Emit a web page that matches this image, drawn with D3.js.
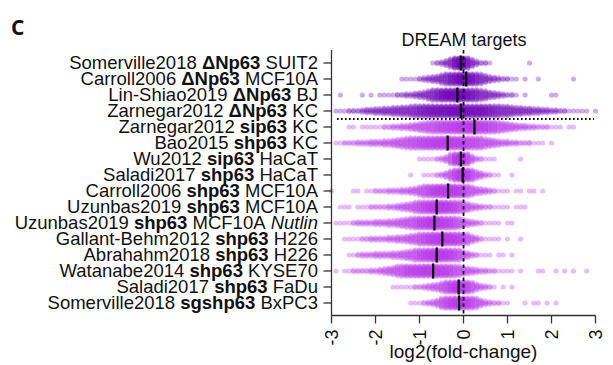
<!DOCTYPE html>
<html>
<head>
<meta charset="utf-8">
<script src="https://cdn.jsdelivr.net/npm/d3@7"></script>
<style>
  body { margin: 0; background: #fff; }
  svg { display: block; }
  text { fill: #111; }
</style>
</head>
<body>
<svg id="chart" width="613" height="365"></svg>
<script>
// Row labels: study, perturbation (bold), cell line, extra condition (italic)
const studies = ["Somerville2018", "Carroll2006", "Lin-Shiao2019", "Zarnegar2012",
  "Zarnegar2012", "Bao2015", "Wu2012", "Saladi2017", "Carroll2006", "Uzunbas2019",
  "Uzunbas2019", "Gallant-Behm2012", "Abrahahm2018", "Watanabe2014", "Saladi2017",
  "Somerville2018"];
const perturbations = ["ΔNp63", "ΔNp63", "ΔNp63", "ΔNp63", "sip63", "shp63", "sip63",
  "shp63", "shp63", "shp63", "shp63", "shp63", "shp63", "shp63", "shp63", "sgshp63"];
const cellLines = ["SUIT2", "MCF10A", "BJ", "KC", "KC", "KC", "HaCaT", "HaCaT", "MCF10A",
  "MCF10A", "MCF10A", "H226", "H226", "KYSE70", "FaDu", "BxPC3"];
const conditions = ["", "", "", "", "", "", "", "", "", "", "Nutlin", "", "", "", "", ""];

// over-expression datasets vs knock-down datasets
const direction = ["up", "up", "up", "up", "down", "down", "down", "down", "down", "down",
  "down", "down", "down", "down", "down", "down"];

// median log2 fold-change of DREAM targets per dataset
const medians = [-0.06, 0.06, -0.14, -0.06, 0.25, -0.36, -0.06, -0.02, -0.35, -0.61,
  -0.66, -0.48, -0.61, -0.69, -0.11, -0.10];

// gene counts per 0.1 log2FC bin; binStart is the first bin's value for each dataset
const binStart = [-0.7, -1.4, -2.8, -2.9, -2.6, -2.9, -1.0, -1.2, -3.0, -2.8, -2.9, -2.7,
  -2.6, -2.9, -1.6, -1.2];
const binCounts = [
  [1,2,3,5,8,14,20,20,12,7,4,2,2,1,0,0,0,0,0,0,0,0,1],
  [1,1,1,1,2,3,4,5,6,8,10,13,15,18,18,16,14,11,9,7,5,4,3,2,2,1,1,0,1,0,0,1,0,0,0,0,0,0,0,1],
  [1,0,0,0,0,1,0,1,0,1,1,1,1,2,2,3,3,4,5,6,8,10,12,14,16,17,18,18,17,15,13,11,9,8,6,5,4,3,2,2,1,0,1,0,0,0,0,0,1,1],
  [1,1,1,2,2,2,3,4,4,5,5,6,6,7,7,8,8,9,10,11,12,13,14,14,15,15,16,16,16,16,15,15,14,14,13,12,11,10,9,9,8,7,7,6,6,5,5,4,4,3,3,2,2,1,1,1,1,1,0,1],
  [1,1,0,1,1,1,1,1,2,2,3,3,4,4,5,6,7,8,9,10,11,12,13,14,15,16,17,17,17,16,15,14,12,11,9,8,7,6,5,4,4,3,3,2,2,2,1,1,1,0,1,1],
  [1,1,2,2,2,3,3,3,4,4,4,5,5,6,7,8,9,10,11,12,13,14,15,16,16,16,16,15,15,14,13,12,11,10,8,7,6,5,4,4,3,3,2,2,2,1,1,1,0,1],
  [1,1,1,1,2,3,5,9,16,22,20,12,6,3,2,1,1,1,0,0,0,0,0,1],
  [1,0,0,1,1,1,2,3,5,8,13,18,20,16,11,7,5,3,2,1,1,0,0,1],
  [1,0,0,0,0,1,1,0,1,1,2,2,2,3,3,3,4,4,5,6,8,10,12,14,16,17,18,18,17,15,13,10,8,6,5,4,3,2,1,1,1,0,1,1,0,1,1,0,1],
  [1,1,1,0,1,1,1,2,2,2,2,3,3,4,5,6,7,9,11,13,15,17,18,18,17,15,13,11,9,7,5,4,3,2,2,1,1,1,1,0,1,1,1],
  [1,1,1,1,2,3,3,3,3,4,4,4,5,5,6,7,8,9,11,13,15,17,18,18,17,15,13,11,9,7,5,4,3,2,1,1,1,1,0,1,1],
  [1,1,1,1,2,2,3,3,3,3,4,4,5,5,6,7,8,10,12,14,16,17,18,18,17,16,14,12,9,6,4,2,1,1,1,1,0,1,0,0,1],
  [1,1,2,3,3,3,4,4,4,4,5,5,6,7,8,10,12,14,16,18,18,18,17,15,12,10,7,5,3,2,1,1,1,0,1,1,0,1],
  [1,0,1,1,2,2,2,2,3,3,4,5,6,7,9,10,12,13,14,15,16,16,16,16,15,14,12,10,9,7,6,5,4,3,3,2,2,1,1,1,1,0,1,0,0,0,1,1,0,0,1,0,1,0,1,0,0,1],
  [1,1,1,1,1,2,2,3,4,5,6,8,11,15,18,19,17,13,9,6,4,3,2,1,0,1,0,1],
  [1,1,1,2,3,4,6,9,12,15,17,18,17,15,12,9,6,4,3,2,2,1,1,0,0,0,1,0,1,1,0,1,0,1]
];
const BIN_WIDTH = 0.1;
const xTicks = [-3, -2, -1, 0, 1, 2, 3];

const FONT = "'Liberation Sans', Arial, Helvetica, sans-serif";
const svg = d3.select("#chart");
const x = d3.scaleLinear().domain([-3, 3]).range([331.5, 595.5]);
const y = d3.scalePoint().domain(d3.range(studies.length)).range([63, 303]);
const colour = { up: "#6e00b6", down: "#b634ea" };

// swarm layout: genes in a bin are stacked vertically around the row centre
const MAX_SPAN = 10.5, STEP = 1.2;
const points = [];
binCounts.forEach((counts, row) => {
  counts.forEach((n, j) => {
    const v = binStart[row] + j * BIN_WIDTH;
    const span = n > 1 ? Math.min(MAX_SPAN, (n - 1) * STEP) : 0;
    for (let k = 0; k < n; k++) {
      const off = n > 1 ? -span / 2 + k * span / (n - 1) : 0;
      points.push({ row, v, off });
    }
  });
});

svg.append("g").selectAll("circle").data(points).join("circle")
  .attr("cx", d => x(d.v))
  .attr("cy", d => y(d.row) + d.off)
  .attr("r", 2.6)
  .attr("fill", d => colour[direction[d.row]])
  .attr("fill-opacity", 0.32);

// zero reference line
svg.append("line")
  .attr("x1", x(0)).attr("x2", x(0)).attr("y1", 50).attr("y2", 315.5)
  .attr("stroke", "#000").attr("stroke-width", 1.7).attr("stroke-dasharray", "3.5,3");

// separator between over-expression and knock-down datasets
svg.append("line")
  .attr("x1", 337).attr("x2", 594)
  .attr("y1", (y(3) + y(4)) / 2).attr("y2", (y(3) + y(4)) / 2)
  .attr("stroke", "#000").attr("stroke-width", 1.8).attr("stroke-dasharray", "1.6,2.4");

// medians
svg.append("g").selectAll("line").data(medians).join("line")
  .attr("x1", d => x(d)).attr("x2", d => x(d))
  .attr("y1", (d, i) => y(i) - 7.5).attr("y2", (d, i) => y(i) + 7.5)
  .attr("stroke", "#000").attr("stroke-width", 2.2);

// y axis
const yAxis = svg.append("g").attr("transform", "translate(331.5,0)");
yAxis.append("line").attr("y1", 50).attr("y2", 315.5).attr("stroke", "#333").attr("stroke-width", 1.3);
yAxis.selectAll(".tick").data(d3.range(studies.length)).join("line")
  .attr("x1", -8).attr("x2", 0).attr("y1", i => y(i)).attr("y2", i => y(i))
  .attr("stroke", "#333").attr("stroke-width", 1.3);

const labels = svg.append("g").selectAll("text").data(d3.range(studies.length)).join("text")
  .attr("x", 318).attr("y", i => y(i)).attr("dy", "0.35em")
  .attr("text-anchor", "end").attr("font-size", 18.5).attr("font-family", FONT);
labels.each(function (i) {
  const t = d3.select(this);
  t.append("tspan").text(studies[i] + " ");
  t.append("tspan").attr("font-weight", "bold").text(perturbations[i]);
  t.append("tspan").text(" " + cellLines[i]);
  if (conditions[i]) t.append("tspan").attr("font-style", "italic").text(" " + conditions[i]);
});

// x axis
const xAxis = svg.append("g").attr("transform", "translate(0,315.5)");
xAxis.append("line").attr("x1", x(-3)).attr("x2", x(3)).attr("stroke", "#333").attr("stroke-width", 1.3);
xAxis.selectAll("line.tick").data(xTicks).join("line").attr("class", "tick")
  .attr("x1", d => x(d)).attr("x2", d => x(d)).attr("y1", 0).attr("y2", 8)
  .attr("stroke", "#333").attr("stroke-width", 1.3);
xAxis.selectAll("text").data(xTicks).join("text")
  .attr("transform", d => `translate(${x(d)},14) rotate(-90)`)
  .attr("text-anchor", "end").attr("dy", "0.35em").attr("font-size", 18)
  .attr("font-family", FONT)
  .text(d => d);

svg.append("text").attr("x", 463.5).attr("y", 358).attr("text-anchor", "middle")
  .attr("font-family", FONT).attr("font-size", 19).text("log2(fold-change)");

svg.append("text").attr("x", 464).attr("y", 46).attr("text-anchor", "middle")
  .attr("font-family", FONT).attr("font-size", 18).text("DREAM targets");

svg.append("text").attr("x", 11).attr("y", 35)
  .attr("font-family", "'Open Sans', sans-serif").attr("font-weight", "bold")
  .attr("font-size", 21).text("C");
</script>
</body>
</html>
